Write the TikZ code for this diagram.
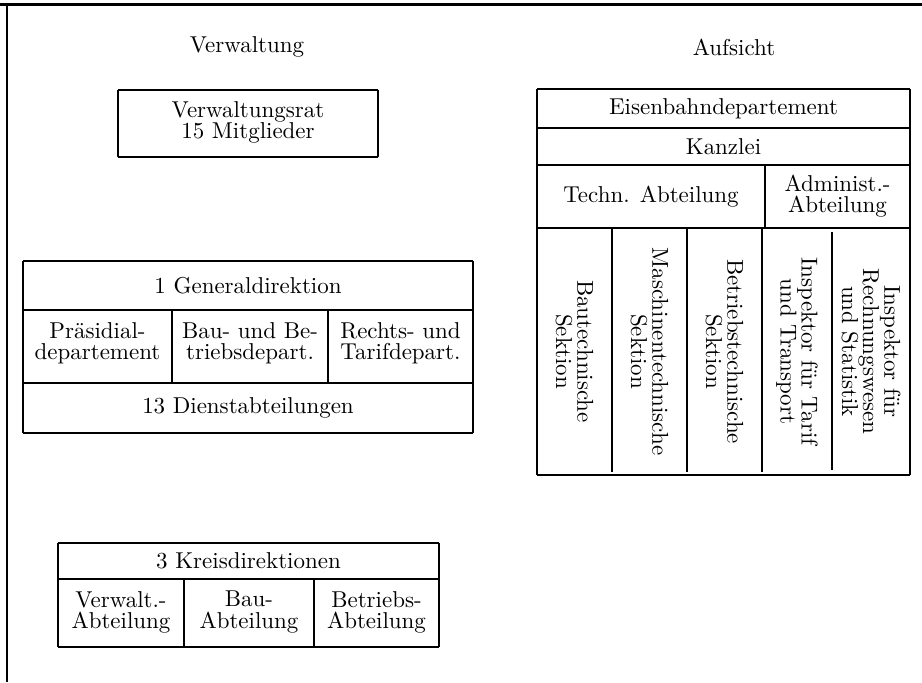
\documentclass[tikz,border=0pt]{standalone}
\begin{document}
\begin{tikzpicture}[x=0.4444pt,y=-0.4444pt,
  hl/.style={line width=1.05pt},
  vl/.style={line width=1.25pt},
  txt/.style={font=\fontsize{10.2}{9.4}\selectfont, align=center, inner sep=0pt},
  vtxt/.style={txt, rotate=-90}]
\useasboundingbox (0,0) rectangle (922,682);
% frame
\draw[vl] (0,4.5) -- (922,4.5);
\draw[vl] (7,4.5) -- (7,682);
% headings
\node[txt] (verw) at (247,47) {Verwaltung};
\node[txt] (aufs) at (734,47) {Aufsicht};
% Verwaltungsrat
\draw[hl] (118,90) -- (378,90) (118,157) -- (378,157);
\draw[vl] (118,90) -- (118,157) (378,90) -- (378,157);
\node[txt] (vrat) at (248,122) {Verwaltungsrat\\15 Mitglieder};
% Generaldirektion
\draw[hl] (23,261) -- (473,261) (23,310) -- (473,310) (23,383) -- (473,383) (23,433) -- (473,433);
\draw[vl] (23,261) -- (23,433) (473,261) -- (473,433) (172,310) -- (172,383) (328,310) -- (328,383);
\node[txt] (gd) at (248,285.5) {1 Generaldirektion};
\node[txt] (praes) at (97.5,343) {Präsidial-\\departement};
\node[txt] (bau) at (250,343) {Bau- und Be-\\triebsdepart.};
\node[txt] (recht) at (400.5,343) {Rechts- und\\Tarifdepart.};
\node[txt] (dienst) at (248,408) {13 Dienstabteilungen};
% Kreisdirektionen
\draw[hl] (58,543) -- (439,543) (58,579) -- (439,579) (58,647) -- (439,647);
\draw[vl] (58,543) -- (58,647) (439,543) -- (439,647) (184,579) -- (184,647) (314,579) -- (314,647);
\node[txt] (kd) at (248.5,561) {3 Kreisdirektionen};
\node[txt] (kv) at (121,612) {Verwalt.-\\Abteilung};
\node[txt] (kb) at (249,612) {Bau-\\Abteilung};
\node[txt] (kbe) at (376.5,612) {Betriebs-\\Abteilung};
% Eisenbahndepartement
\draw[hl] (537,89) -- (910,89) (537,128) -- (910,128) (537,165) -- (910,165) (537,228) -- (910,228) (537,475) -- (910,475);
\draw[vl] (537,89) -- (537,475) (910,89) -- (910,475) (765,165) -- (765,228)
  (612,228) -- (612,472) (687,228) -- (687,472) (762,228) -- (762,472) (832,232) -- (832,470);
\node[txt] (ed) at (723.5,108.5) {Eisenbahndepartement};
\node[txt] (kanz) at (723.5,146.5) {Kanzlei};
\node[txt] (techn) at (651,196.5) {Techn. Abteilung};
\node[txt] (adm) at (837.5,196.5) {Administ.-\\Abteilung};
\node[vtxt] (s1) at (574.5,351.5) {Bautechnische\\Sektion};
\node[vtxt] (s2) at (649.5,351.5) {Maschinentechnische\\Sektion};
\node[vtxt] (s3) at (724.5,351.5) {Betriebstechnische\\Sektion};
\node[vtxt] (s4) at (797,351.5) {Inspektor für Tarif\\und Transport};
\node[vtxt] (s5) at (871,351.5) {Inspektor für\\Rechnungswesen\\und Statistik};
\end{tikzpicture}
\end{document}
